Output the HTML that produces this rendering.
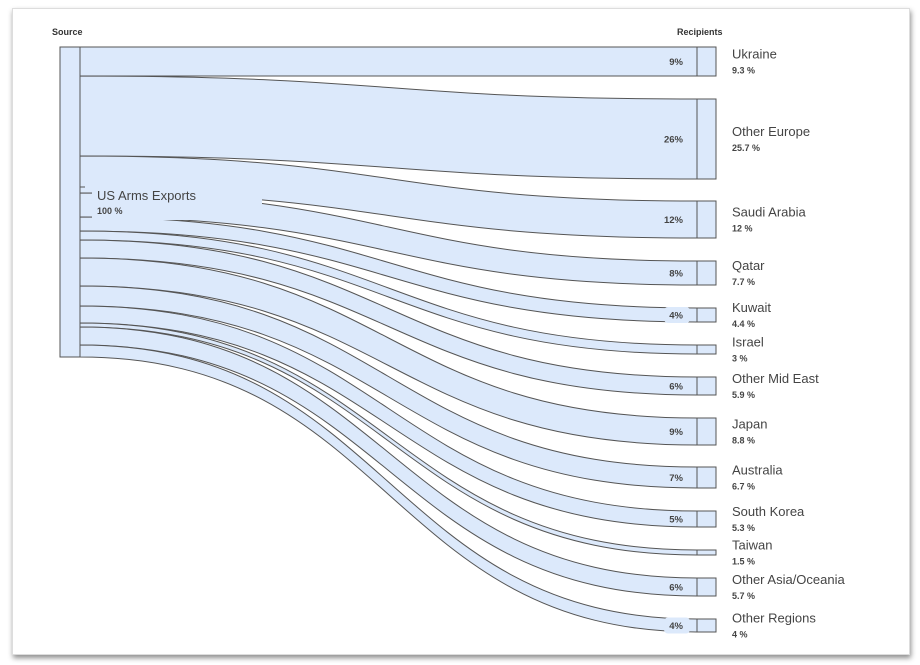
<!DOCTYPE html>
<html><head><meta charset="utf-8"><style>
body{margin:0;background:#fff;width:920px;height:665px;overflow:hidden;font-family:"Liberation Sans",sans-serif}
.card{position:absolute;left:12px;top:8px;width:896px;height:645px;background:#fff;box-shadow:1px 3px 5px rgba(0,0,0,0.45);border:1px solid #ddd}
svg{position:absolute;left:0;top:0}
</style></head><body>
<div class="card"></div>
<svg width="920" height="665" viewBox="0 0 920 665">
<g fill="#dce9fb" stroke="#555" stroke-width="1" id="flows"></g>
<rect x="60" y="47" width="20" height="310" fill="#dce9fb" stroke="#555"/>
<g id="nodes" fill="#dce9fb" stroke="#555"></g>
<rect x="92" y="184" width="170" height="36" fill="#dce9fb"/>
<line x1="80" y1="187" x2="85" y2="187" stroke="#555"/>
<line x1="80" y1="217" x2="85" y2="217" stroke="#555"/>
<text x="97" y="200" font-size="13" fill="#444">US Arms Exports</text>
<text x="97" y="214" font-size="9" font-weight="bold" fill="#444">100 %</text>
<text x="52" y="35" font-size="9" font-weight="bold" fill="#333">Source</text>
<text x="677" y="35" font-size="9" font-weight="bold" fill="#333">Recipients</text>
<g id="labels"></g>
</svg>
<script>
var d=[["Ukraine","9.3 %","9%",47,76,47,76],["Other Europe","25.7 %","26%",76,156,99,179],["Saudi Arabia","12 %","12%",156,193,201,238],["Qatar","7.7 %","8%",193,217,261,285],["Kuwait","4.4 %","4%",217,231,308,322],["Israel","3 %","",231,240,345,354],["Other Mid East","5.9 %","6%",240,258,377,395],["Japan","8.8 %","9%",258,286,418,445],["Australia","6.7 %","7%",286,306,467,488],["South Korea","5.3 %","5%",306,323,511,527],["Taiwan","1.5 %","",323,327,550,555],["Other Asia/Oceania","5.7 %","6%",327,345,578,596],["Other Regions","4 %","4%",345,357,619,632]];
var f="",n="",l="";
d.forEach(function(r){
var a=r[3],b=r[4],c=r[5],e=r[6],m=388.5;
f+='<path d="M80,'+a+' C'+m+','+a+' '+m+','+c+' 697,'+c+' L697,'+e+' C'+m+','+e+' '+m+','+b+' 80,'+b+' Z"/>';
n+='<rect x="697" y="'+c+'" width="19" height="'+(e-c)+'"/>';
var mid=(c+e)/2;
l+='<text x="732" y="'+(mid-3)+'" font-size="13" fill="#444">'+r[0]+'</text>';
l+='<text x="732" y="'+(mid+12)+'" font-size="9" font-weight="bold" fill="#444">'+r[1]+'</text>';
if(r[2]){ if(e-c<16) l+='<rect x="664" y="'+(mid-8)+'" width="26" height="16" rx="4" fill="#dce9fb"/>';
l+='<text x="683" y="'+(mid+3.5)+'" font-size="9.5" font-weight="bold" fill="#444" text-anchor="end">'+r[2]+'</text>';}
});
document.getElementById("flows").innerHTML=f;
document.getElementById("nodes").innerHTML=n;
document.getElementById("labels").innerHTML=l;
</script>
</body></html>
